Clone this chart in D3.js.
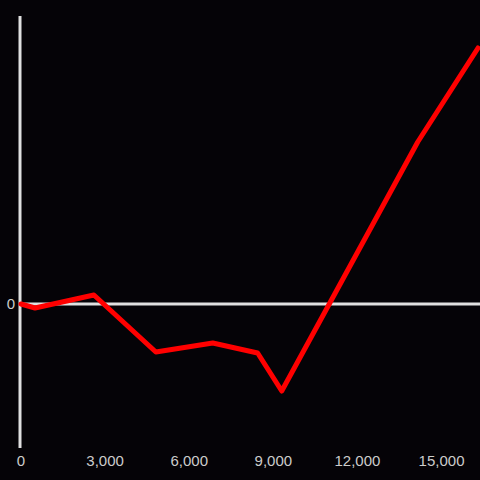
<!DOCTYPE html>
<html>
<head>
<meta charset="utf-8">
<script src="https://cdn.jsdelivr.net/npm/d3@7"></script>
<style>
  html, body { margin: 0; padding: 0; background: #050307; }
  svg { display: block; }
</style>
</head>
<body>
<div id="chart"></div>
<script>
const width = 480
const height = 480

// data
const xValues = [0, 500, 2600, 4810, 6840, 8440, 9300, 14150, 16300]
const yValues = [0, -4, 9, -48, -39, -49, -87, 162, 256]
const xTicks = [0, 3000, 6000, 9000, 12000, 15000]
const yTicks = [0]

const points = xValues.map(function (x, i) { return { x: x, y: yValues[i] } })

let svg = d3.select("#chart").append("svg")
    .attr("width", width)
    .attr("height", height)

svg.append("rect")
    .attr("width", width)
    .attr("height", height)
    .style("fill", "#050307")

let x = d3.scaleLinear()
    .domain([0, 16300])
    .range([21, 478])

let y = d3.scaleLinear()
    .domain([-144, 288])
    .range([448, 16])

// zero line
svg.selectAll(".zero")
    .data(yTicks)
    .enter()
    .append("line")
    .attr("x1", 20)
    .attr("x2", width)
    .attr("y1", function (d) { return y(d) })
    .attr("y2", function (d) { return y(d) })
    .style("stroke", "#e0e0e0")
    .style("stroke-width", 3)

// y axis line
svg.append("line")
    .attr("x1", 20)
    .attr("x2", 20)
    .attr("y1", y.range()[1])
    .attr("y2", y.range()[0])
    .style("stroke", "#e0e0e0")
    .style("stroke-width", 3)

svg.selectAll(".ylab")
    .data(yTicks)
    .enter()
    .append("text")
    .attr("class", "ylab")
    .attr("x", 15)
    .attr("y", function (d) { return y(d) })
    .attr("dy", "0.35em")
    .attr("text-anchor", "end")
    .style("font-family", "'Liberation Sans', Arial, sans-serif")
    .style("font-size", "15px")
    .style("fill", "#cccccc")
    .text(function (d) { return d3.format(",")(d) })

svg.selectAll(".xlab")
    .data(xTicks)
    .enter()
    .append("text")
    .attr("class", "xlab")
    .attr("x", function (d) { return x(d) })
    .attr("y", 466)
    .attr("text-anchor", "middle")
    .style("font-family", "'Liberation Sans', Arial, sans-serif")
    .style("font-size", "15px")
    .style("fill", "#cccccc")
    .text(function (d) { return d3.format(",")(d) })

let line = d3.line()
    .x(function (d) { return x(d.x) })
    .y(function (d) { return y(d.y) })

svg.append("path")
    .datum(points)
    .attr("d", line)
    .style("fill", "none")
    .style("stroke", "#ff0000")
    .style("stroke-width", 5)
    .style("stroke-linejoin", "round")
    .style("stroke-linecap", "round")
</script>
</body>
</html>
